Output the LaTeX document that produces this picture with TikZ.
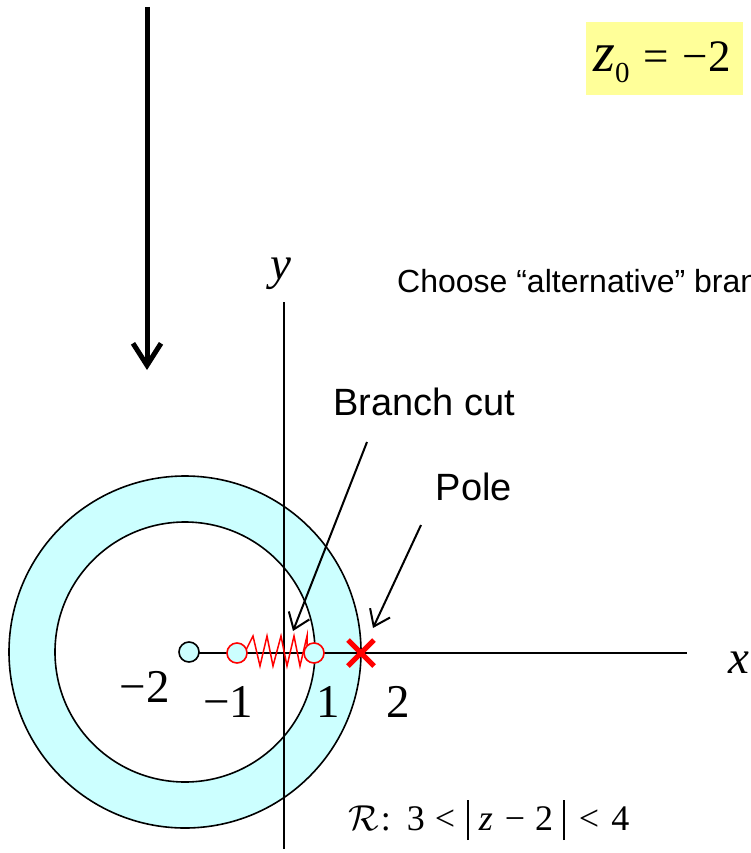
\documentclass[tikz,border=0pt]{standalone}
\usepackage{fontspec}
\setmainfont{Liberation Serif}
\newfontfamily\arialfont{Liberation Sans}
\usetikzlibrary{arrows.meta,calc}
\definecolor{annulusfill}{RGB}{204,255,255}
\definecolor{hilite}{RGB}{255,255,153}
\newcommand{\fsz}[1]{\fontsize{#1}{#1}\selectfont}
\newcommand{\tallbar}{\rule[-10pt]{1.8pt}{40pt}}
\begin{document}
\begin{tikzpicture}[x=1pt,y=-1pt,
  axisline/.style={line width=2pt},
  ringline/.style={line width=1.6pt},
  mathlbl/.style={inner sep=0pt, anchor=base, font=\fsz{47}},
  sanslbl/.style={inner sep=0pt, anchor=base, font=\arialfont\fsz{38}},
  pointer/.style={line width=2pt, -{Straight Barb[length=15pt,width=22pt]}},
  hollow/.style={circle, minimum size=20pt, inner sep=0pt, line width=1.6pt, fill=annulusfill},
]
\useasboundingbox (0,0) rectangle (751,853);
\clip (0,0) rectangle (751,853);

% annulus
\fill[annulusfill] (185,652) circle (176pt);
\fill[white] (185,652) circle (130pt);
\draw[ringline] (185,652) circle (176pt);
\draw[ringline] (185,652) circle (130pt);

% axes
\coordinate (yaxtop) at (284,302);
\coordinate (yaxbot) at (284,849);
\coordinate (xaxleft) at (199,653);
\coordinate (xaxright) at (687,653);
\draw[axisline] (yaxtop) -- (yaxbot);
\draw[axisline] (xaxleft) -- (xaxright);

% branch cut zigzag
\coordinate (zzstart) at (246,650);
\coordinate (zzend) at (307,650);
\draw[red, line width=1.5pt, line join=miter] (zzstart) -- (253,636) -- (260,666) -- (267,636) -- (273,666)
  -- (281,636) -- (287,666) -- (294,636) -- (300,666) -- (307,636) -- (zzend);

% points
\node[hollow, draw=black] (pm2) at (189,652) {};
\node[hollow, draw=red] (pm1) at (237,653) {};
\node[hollow, draw=red] (pp1) at (314,653) {};
\coordinate (pole) at (361,653);
\draw[red, line width=5pt] ($(pole)+(-13,-13)$) -- ($(pole)+(13,13)$);
\draw[red, line width=5pt] ($(pole)+(-13,13)$) -- ($(pole)+(13,-13)$);

% axis labels and ticks
\node[mathlbl] (ylbl) at (281,279) {\textit{y}};
\node[mathlbl] (xlbl) at (739,673) {\textit{x}};
\node[mathlbl] (lm2) at (145,702) {−2};
\node[mathlbl] (lm1) at (228,717) {−1};
\node[mathlbl] (l1) at (328,717) {1};
\node[mathlbl] (l2) at (398,717) {2};

% texts
\node[inner sep=0pt, anchor=base west, font=\arialfont\fsz{32}] (choose) at (397,292) {Choose “alternative” bran};
\node[sanslbl] (bclbl) at (424,415) {Branch cut};
\node[sanslbl] (polelbl) at (474,500) {Pole};
\node[inner sep=0pt, anchor=base west, font=\fsz{36}] (region) at (348,830)
  {\scalebox{1.45}{$\mathcal{R}$}\hspace{2pt}:\hspace{16pt}3\hspace{10pt}<\hspace{12pt}\tallbar\hspace{10pt}\textit{z}\hspace{12pt}−\hspace{10pt}2\hspace{10pt}\tallbar\hspace{14pt}<\hspace{12pt}4};

% z0 box
\node[fill=hilite, minimum width=157pt, minimum height=73pt, inner sep=0pt] (zbox) at (664.5,58.5) {};
\node[inner sep=0pt, anchor=base west, font=\fsz{45}] (zeq) at (593,72)
  {{\fsz{56}\textit{z}}\raisebox{-11pt}{\fsz{29}0}\hspace{14pt}=\hspace{14pt}−2};

% pointers
\coordinate (bcstart) at (367,442);
\coordinate (bctip) at (293,631);
\draw[pointer] (bcstart) -- (bctip);
\coordinate (polestart) at (421,525);
\coordinate (poletip) at (373,628);
\draw[pointer] (polestart) -- (poletip);

% big downward arrow
\coordinate (dtop) at (147,7);
\coordinate (dtip) at (147,370);
\draw[line width=5pt, -{Straight Barb[length=22pt,width=28pt]}] (dtop) -- (dtip);
\end{tikzpicture}
\end{document}
